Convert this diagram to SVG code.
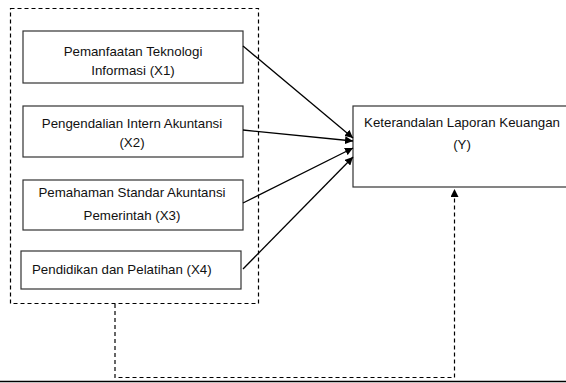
<svg xmlns="http://www.w3.org/2000/svg" width="566" height="383" viewBox="0 0 566 383">
<style>
.box{fill:#fff;stroke:#333;stroke-width:1.2}
.t{font-family:"Liberation Sans",Arial,sans-serif;font-size:13.3px;fill:#111}
.c{text-anchor:middle}
.edge{stroke:#000;stroke-width:1.3;fill:none}
.dash{stroke:#000;stroke-width:1.2;fill:none;stroke-dasharray:4 3}
</style>
<defs>
<marker id="ah" viewBox="0 0 10 10" refX="10" refY="5" markerWidth="8" markerHeight="8" markerUnits="userSpaceOnUse" orient="auto">
<path d="M0,0 L10,5 L0,10 z" fill="#000"/>
</marker>
</defs>
<rect x="0" y="0" width="566" height="383" fill="#fff"/>
<g id="group-box">
<rect x="10.5" y="8.5" width="248" height="295" class="dash"/>
</g>
<g id="x1">
<rect x="23" y="31" width="220" height="52" class="box"/>
<text x="133" y="56" class="t c">Pemanfaatan Teknologi</text>
<text x="133" y="75" class="t c">Informasi (X1)</text>
</g>
<g id="x2">
<rect x="23" y="106" width="220" height="51" class="box"/>
<text x="132" y="128" class="t c">Pengendalian Intern Akuntansi</text>
<text x="132" y="147" class="t c">(X2)</text>
</g>
<g id="x3">
<rect x="23" y="180" width="220" height="50" class="box"/>
<text x="132" y="197" class="t c">Pemahaman Standar Akuntansi</text>
<text x="132" y="220" class="t c">Pemerintah (X3)</text>
</g>
<g id="x4">
<rect x="21" y="251" width="220" height="38" class="box"/>
<text x="32" y="274" class="t">Pendidikan dan Pelatihan (X4)</text>
</g>
<g id="y">
<rect x="353" y="106" width="222" height="81" class="box"/>
<text x="462" y="127" class="t c">Keterandalan Laporan Keuangan</text>
<text x="462" y="149" class="t c">(Y)</text>
</g>
<g id="connectors">
<line x1="243" y1="46" x2="353" y2="138" class="edge" marker-end="url(#ah)"/>
<line x1="243" y1="130" x2="353" y2="141" class="edge" marker-end="url(#ah)"/>
<line x1="243" y1="203" x2="353" y2="148" class="edge" marker-end="url(#ah)"/>
<line x1="243" y1="269" x2="353" y2="157" class="edge" marker-end="url(#ah)"/>
<polyline points="115,304 115,377.5 454.5,377.5 454.5,189" class="dash" marker-end="url(#ah)"/>
</g>
<line x1="0" y1="381.5" x2="566" y2="381.5" stroke="#000" stroke-width="1.5"/>
</svg>
